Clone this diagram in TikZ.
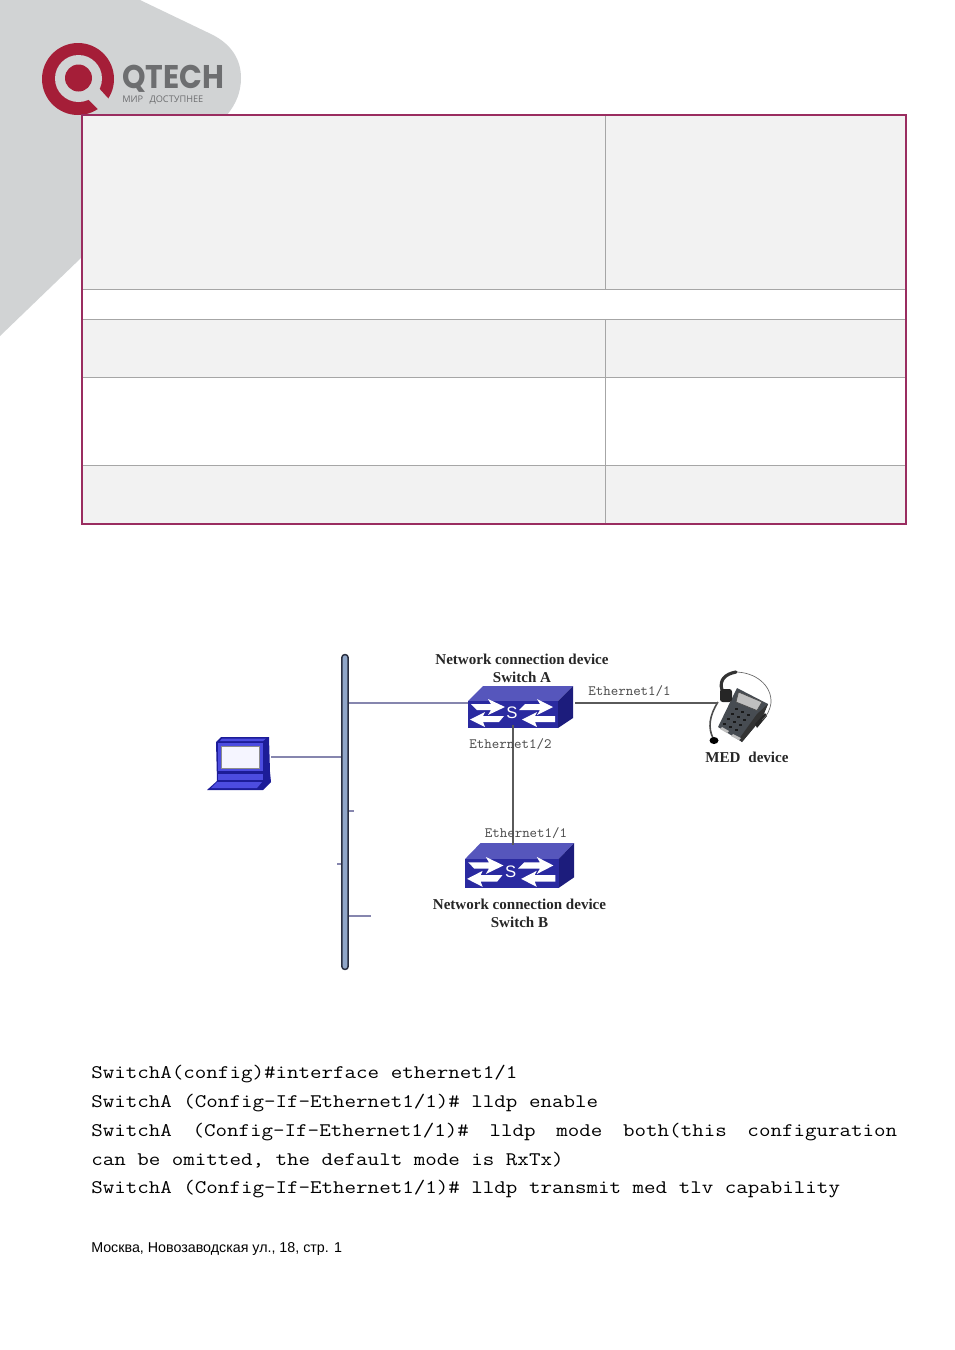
\documentclass[tikz,border=0pt]{standalone}
\usepackage{fontspec}
\usepackage{graphicx}
\setmainfont{Liberation Serif}
\newfontfamily\sansf{Liberation Sans}
\newfontfamily\codef[FakeStretch=1.165]{Latin Modern Mono}
\newfontfamily\logof{Poppins}
\newfontfamily\tagf{Open Sans}
\definecolor{bggray}{HTML}{D1D3D4}
\definecolor{tborder}{HTML}{9A2D60}
\definecolor{tfill}{HTML}{F2F2F2}
\definecolor{tline}{HTML}{A6A6A6}
\definecolor{qred}{HTML}{A51E38}
\definecolor{qgray}{HTML}{6D6E70}
\definecolor{swtop}{HTML}{5656BC}
\definecolor{swfront}{HTML}{2A2AA0}
\definecolor{swside}{HTML}{1C1C7C}
\definecolor{lapfill}{HTML}{4C4CE0}
\definecolor{lapdark}{HTML}{1C1C98}
\definecolor{lnk}{HTML}{8686AE}
\definecolor{lnkdark}{HTML}{5A5A5A}
\definecolor{busfill}{HTML}{90A6C8}
\definecolor{busline}{HTML}{2A2F40}
\definecolor{phonebody}{HTML}{474C52}
\tikzset{
 codeline/.style={anchor=base west,inner sep=0pt,font=\codef\fontsize{14.4pt}{16pt}\selectfont,text=black},
 portlabel/.style={anchor=center,inner sep=0pt,font=\ttfamily\fontsize{10.7pt}{12pt}\selectfont,text=black!70},
 devlabel/.style={anchor=center,inner sep=0pt,align=center,font=\bfseries\fontsize{11.3pt}{13.5pt}\selectfont,text=black!85},
 link/.style={draw=lnk,line width=1pt},
 linkdark/.style={draw=lnkdark,line width=1pt},
 tinner/.style={draw=tline,line width=0.6pt},
 swarrow/.style={fill=white,draw=none}
}
\newcommand{\swbody}[4]{%
 \begin{scope}[shift={(#1,#2)},xscale=#3,yscale=#4]
  \fill[swtop] (0,15) -- (15,0) -- (105,0) -- (90,15) -- cycle;
  \fill[swside] (90,15) -- (105,0) -- (105,32) -- (90,42) -- cycle;
  \fill[swfront] (0,15) rectangle (90,42);
  \fill[swarrow] (3,18) -- (23,18) -- (20,13) -- (37,21) -- (20,29) -- (23,24) -- (9,24) -- cycle;
  \fill[swarrow] (2,33.5) -- (17,26) -- (15,30) -- (36,30) -- (31,36) -- (15,36) -- (17,41) -- cycle;
  \fill[swarrow] (57,18) -- (72,18) -- (69,13) -- (85,21) -- (69,29) -- (72,24) -- (51,24) -- cycle;
  \fill[swarrow] (54,33.5) -- (69,26) -- (67,30) -- (87,30) -- (87,36) -- (67,36) -- (69,41) -- cycle;
  \node[inner sep=0pt,text=white,font=\sansf\fontsize{12.5pt}{13pt}\selectfont] at (44,27) {S};
 \end{scope}}
\begin{document}
\begin{tikzpicture}[x=0.75pt,y=-0.75pt]
\useasboundingbox (0,0) rectangle (954,1350);
% page decoration
\fill[bggray] (0,0) -- (140,0) -- (213,35) .. controls (232,45) and (241,60) .. (241,78) .. controls (241,92) and (236,104) .. (227,115) -- (82,115) -- (82,257) -- (0,336) -- cycle;
% logo
\fill[qred] (78,79) circle (36);
\fill[bggray] (78.5,78.5) circle (23.5);
\fill[qred] (78.5,78) circle (13.5);
\fill[bggray] (96,85) -- (115,106) -- (105,116) -- (86,97) -- cycle;
\node[inner sep=0pt,anchor=west,text=qgray] (logoname) at (122,78.5) {\resizebox{76.5pt}{17.5pt}{\logof\fontseries{sb}\selectfont QTECH}};
\node[inner sep=0pt,anchor=west,text=qgray,font=\tagf\fontsize{6.9pt}{7pt}\selectfont] (logotag) at (122,100) {МИР\hspace{3pt} ДОСТУПНЕЕ};
% table
\fill[tfill] (82,115) rectangle (906,289);
\fill[tfill] (82,319) rectangle (906,377);
\fill[tfill] (82,465) rectangle (906,524);
\draw[tinner] (82,289.5) -- (906,289.5);
\draw[tinner] (82,319.5) -- (906,319.5);
\draw[tinner] (82,377.5) -- (906,377.5);
\draw[tinner] (82,465.5) -- (906,465.5);
\draw[tinner] (605.5,115) -- (605.5,289);
\draw[tinner] (605.5,319) -- (605.5,524);
\draw[tborder,line width=1.4pt] (82,115) rectangle (906,524);
% bus
\node[draw=busline,fill=busfill,line width=1.1pt,rounded corners=2pt,minimum width=4.6pt,minimum height=236pt,inner sep=0pt] (bus) at (345,812) {};
% laptop
\node[inner sep=0pt,minimum width=48pt,minimum height=40pt] (laptop) at (238.5,764) {};
\fill[lapdark] (216,742) -- (221,737) -- (269,737) -- (270,772) -- (271,782) -- (263,790) -- (207,790) -- (217,781) -- cycle;
\fill[lapfill] (222,738.5) -- (266,738.5) -- (263,741) -- (220,741) -- cycle;
\fill[lapfill] (218,743) rectangle (263,771);
\fill[black!45] (221,746) rectangle (260,769);
\fill[white!96!blue] (222,747) rectangle (259,768);
\fill[lapfill] (218,774) rectangle (263,780);
\fill[lapfill] (217,782) -- (262,782) -- (257,788) -- (211,788) -- cycle;
% switches
\node[inner sep=0pt,minimum width=78.75pt,minimum height=31.5pt] (swA) at (520.5,707) {};
\swbody{468}{686}{1}{1}
\node[inner sep=0pt,minimum width=82pt,minimum height=34pt] (swB) at (519.5,865.5) {};
\swbody{465}{843}{1.04}{1.07}
% phone
\node[inner sep=0pt,minimum width=47pt,minimum height=57pt] (phone) at (740,712) {};
\fill[phonebody] (737,688) -- (768,704) -- (762,718) -- (742,742) -- (718,727) -- cycle;
\fill[black!80] (768,704) -- (762,718) -- (742,742) -- (739,739) -- (757,714) -- cycle;
\fill[black!25] (738.5,692) -- (762,702) -- (757,710.5) -- (736,702) -- cycle;
\draw[black!70,line width=0.5pt] (738.5,692) -- (762,702) -- (757,710.5) -- (736,702) -- cycle;
\foreach \a/\b in {735/708,741/711,747/714,731/713,737/716,743/719,727/718,733/721,739/724,723/723,729/726,735/729}{\fill[black!90] (\a,\b) rectangle +(3.4,2);}
\fill[black!25] (722,727) -- (729,731) -- (727,733) -- (720,729) -- cycle;
\fill[black!25] (733,734) -- (741,738) -- (739,740) -- (731,736) -- cycle;
\fill[black!85] (755,724) -- (765,713) -- (767,716) -- (757,728) -- cycle;
\draw[black!60,line width=0.5pt] (735,672) .. controls (755,672) and (772,685) .. (771,703) .. controls (770,710) and (767,716) .. (762,720);
\draw[black!80,line width=2.4pt,line cap=round] (722,690) .. controls (719,680) and (725,674) .. (736,672);
\fill[black!85,rounded corners=2pt] (720,689) rectangle (732,702);
\draw[black!70,line width=1.2pt] (718,702) .. controls (709,716) and (708,728) .. (713,738);
\fill[black] (714,740.5) ellipse (4.5 and 3.5);
% connectors
\coordinate (pA) at (468,703);
\coordinate (pB) at (575,703);
\coordinate (pC) at (718,703);
\coordinate (pD) at (513,725);
\coordinate (pE) at (513,845);
\coordinate (pL) at (271,757);
\coordinate (s1) at (354,811);
\coordinate (s2) at (337,864);
\coordinate (s3) at (371,916);
\draw[link] (bus.east |- pA) -- (pA);
\draw[link] (pL) -- (bus.west |- pL);
\draw[link] (bus.east |- s1) -- (s1);
\draw[link] (s2) -- (bus.west |- s2);
\draw[link] (bus.east |- s3) -- (s3);
\draw[linkdark] (pB) -- (pC);
\draw[linkdark] (pD) -- (pE);
% labels
\node[devlabel] (labA) at (522,668.5) {Network connection device\\Switch A};
\node[devlabel] (labB) at (519.5,913.5) {Network connection device\\Switch B};
\node[devlabel] (labM) at (747,757.5) {MED\hspace{3pt} device};
\node[portlabel] (e1) at (629.5,691.5) {Ethernet1/1};
\node[portlabel] (e2) at (510.5,744) {Ethernet1/2};
\node[portlabel] (e3) at (526,833.5) {Ethernet1/1};
% code
\node[codeline] (c1) at (91,1078) {SwitchA(config)\#interface ethernet1/1};
\node[codeline] (c2) at (91,1107) {SwitchA (Config-If-Ethernet1/1)\# lldp enable};
\node[codeline] (c3) at (91,1136) {\makebox[604.5pt][s]{SwitchA\hfill (Config-If-Ethernet1/1)\#\hfill lldp\hfill mode\hfill both(this\hfill configuration}};
\node[codeline] (c4) at (91,1165) {can be omitted, the default mode is RxTx)};
\node[codeline] (c5) at (91,1193.5) {SwitchA (Config-If-Ethernet1/1)\# lldp transmit med tlv capability};
\node[anchor=base west,inner sep=0pt,font=\sansf\fontsize{10.7pt}{12pt}\selectfont] (addr) at (91,1252) {Москва, Новозаводская ул., 18, стр. 1};
\end{tikzpicture}
\end{document}
